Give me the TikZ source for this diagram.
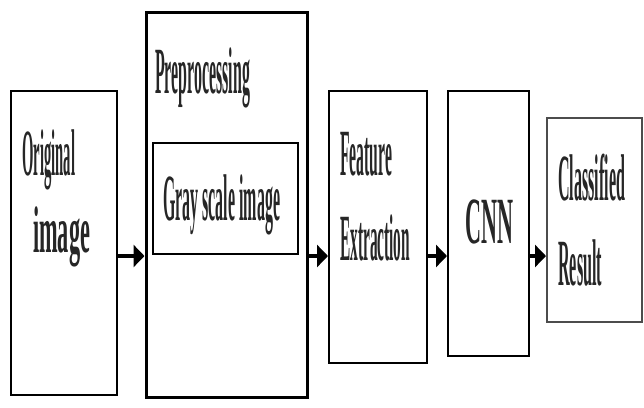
\documentclass[tikz,border=0pt]{standalone}
\usepackage{fontspec}
\usepackage{graphicx}
\setmainfont{Liberation Serif}
\usetikzlibrary{arrows.meta}
\newcommand\sqtxt[2]{\resizebox{#1}{\height}{#2}}
\begin{document}
\begin{tikzpicture}[x=1pt,y=-1pt,
  box/.style={draw=black,line width=2pt,inner sep=0pt,fill=white},
  lbl/.style={anchor=base west,inner sep=0pt,font=\fontsize{66}{66}\selectfont\bfseries,text=black!85},
  arr/.style={line width=4pt,-{Triangle[length=11pt,width=22pt]}}]
\useasboundingbox (0,0) rectangle (644,407);
\fill[white] (0,0) rectangle (644,407);
% boxes
\node[box,minimum width=106pt,minimum height=304pt] (b1) at (64,243) {};
\node[box,line width=3pt,minimum width=161pt,minimum height=385pt] (b2) at (226.5,204.5) {};
\node[box,minimum width=145pt,minimum height=111pt] (gs) at (225.5,198.5) {};
\node[box,minimum width=98pt,minimum height=272pt] (b3) at (378,227) {};
\node[box,minimum width=81pt,minimum height=265pt] (b4) at (488.5,223.5) {};
\node[box,draw=black!70,minimum width=95pt,minimum height=204pt] (b5) at (594.5,219.5) {};
% texts
\node[lbl] (t1a) at (22,175) {\sqtxt{53pt}{Original}};
\node[lbl] (t1b) at (33,252) {\sqtxt{57pt}{image}};
\node[lbl] (t2) at (155,93) {\sqtxt{95pt}{Preprocessing}};
\node[lbl] (t2b) at (163,220) {\sqtxt{117pt}{Gray scale image}};
\node[lbl] (t3a) at (340,175) {\sqtxt{52pt}{Feature}};
\node[lbl] (t3b) at (340,260) {\sqtxt{70pt}{Extraction}};
\node[lbl] (t4) at (465,243) {\sqtxt{48pt}{CNN}};
\node[lbl] (t5a) at (558,200) {\sqtxt{67pt}{Classified}};
\node[lbl] (t5b) at (558,285) {\sqtxt{44pt}{Result}};
% arrows
\coordinate (ay) at (0,256);
\draw[arr] (b1.east |- ay) -- (b2.west |- ay);
\draw[arr] (b2.east |- ay) -- (b3.west |- ay);
\draw[arr] (b3.east |- ay) -- (b4.west |- ay);
\draw[arr] (b4.east |- ay) -- (b5.west |- ay);
\end{tikzpicture}
\end{document}
